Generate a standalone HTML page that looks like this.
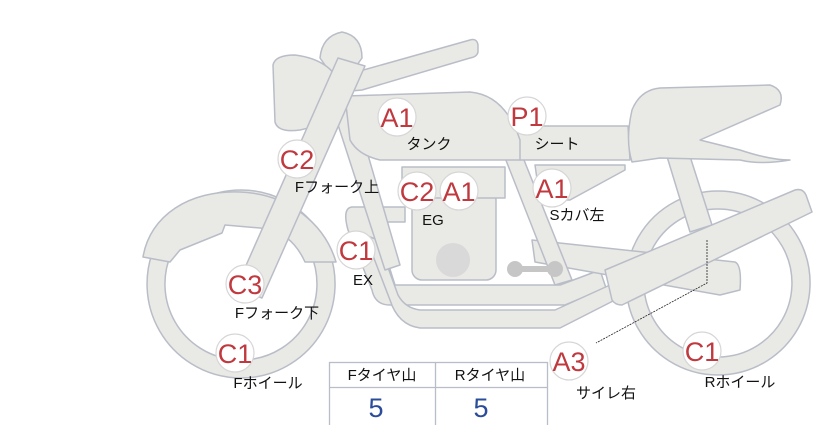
<!DOCTYPE html>
<html><head><meta charset="utf-8"><style>
html,body{margin:0;padding:0;background:#fff;}
svg{display:block}
text{font-family:"Liberation Sans","Noto Sans CJK JP",sans-serif;}
.b{fill:#e9e9e5;stroke:#b9bdc7;stroke-width:1.5;stroke-linejoin:round}
.c{fill:#fff;stroke:#d6d6d6;stroke-width:1.2}
.r{fill:#c0393f;font-size:27px;text-anchor:middle}
.l{fill:#111;font-size:15px;text-anchor:middle}
</style></head><body>
<svg width="822" height="425" viewBox="0 0 822 425">
<path class="b" fill-rule="evenodd" d="M718,191a92,92 0 1,0 0.1,0z M718,209a74,74 0 1,1 -0.1,0z"/>
<path class="b" fill-rule="evenodd" d="M241,190a94,94 0 1,0 0.1,0z M241,208a76,76 0 1,1 -0.1,0z"/>
<path class="b" d="M143,257 C150,215 190,190 240,192 C290,194 325,225 336,262 L305,262 C295,240 280,230 260,228 L225,225 L222,233 L180,250 L170,262 Z"/>
<path class="b" d="M352,207 L405,207 L405,222 L375,222 L395,285 L560,285 L600,270 L606,288 L565,305 L390,305 Q375,305 372,290 L348,230 Q342,208 352,207Z"/>
<path class="b" d="M365,235 L390,300 Q398,325 420,328 L560,328 L615,300 L610,285 L555,310 L420,310 Q405,308 398,295 L378,240Z"/>
<path class="b" d="M532,240 L735,262 Q742,265 740,290 L720,295 L535,262Z"/>
<path class="b" d="M665,150 L688,150 L712,225 L690,232Z"/>
<path class="b" d="M605,270 L795,190 Q803,188 806,195 L812,212 L622,305 Q615,305 612,300Z"/>
<path class="b" d="M330,100 L352,100 L400,265 L385,270Z"/>
<path class="b" d="M500,145 L518,145 L572,280 L555,285Z"/>
<rect class="b" x="412" y="190" width="84" height="90" rx="10"/>
<rect class="b" x="402" y="167" width="103" height="31"/>
<circle cx="453" cy="260" r="17" fill="#d9d9d9"/>
<path d="M515,269 L555,269" stroke="#c6c6c6" stroke-width="6"/>
<circle cx="515" cy="269" r="8" fill="#c6c6c6"/><circle cx="555" cy="269" r="8" fill="#c6c6c6"/>
<path class="b" d="M535,165 L625,165 L625,170 L570,200 L540,200Z"/>
<path class="b" d="M508,126 L628,126 L630,160 L520,160 Z"/>
<path class="b" d="M632,110 Q640,90 660,88 L770,85 Q785,90 780,105 L700,140 L740,150 Q770,160 790,160 Q760,165 740,160 L660,158 L632,162 Q625,140 632,110Z"/>
<path class="b" d="M345,96 L470,92 Q505,95 520,140 L520,160 L380,160 Q358,155 350,140Z"/>
<path class="b" d="M320,58 Q322,36 342,32 Q362,36 362,58 L352,72 L330,72Z"/>
<path class="b" d="M335,78 L470,40 Q477,38 478,45 L478,52 Q477,57 470,58 L362,90 L340,92Z"/>
<path class="b" d="M273,65 Q275,55 295,55 Q335,60 343,92 Q340,122 300,130 Q278,133 275,122Z"/>
<!-- fork -->
<path class="b" d="M338,58 L365,66 L262,298 L236,288Z"/>
<path d="M707,240 L707,283 L596,343" fill="none" stroke="#222" stroke-width="0.8" stroke-dasharray="2,1"/>
<g>
<circle class="c" cx="397" cy="117" r="19"/><text class="r" x="397" y="127">A1</text>
<circle class="c" cx="527" cy="116" r="19"/><text class="r" x="527" y="126">P1</text>
<circle class="c" cx="297" cy="159" r="19"/><text class="r" x="297" y="169">C2</text>
<circle class="c" cx="417" cy="191" r="19"/><text class="r" x="417" y="201">C2</text>
<circle class="c" cx="459" cy="191" r="19"/><text class="r" x="459" y="201">A1</text>
<circle class="c" cx="552" cy="188" r="19"/><text class="r" x="552" y="198">A1</text>
<circle class="c" cx="356" cy="250" r="19"/><text class="r" x="356" y="260">C1</text>
<circle class="c" cx="245" cy="284" r="19"/><text class="r" x="245" y="294">C3</text>
<circle class="c" cx="235" cy="353" r="19"/><text class="r" x="235" y="363">C1</text>
<circle class="c" cx="569" cy="361" r="19"/><text class="r" x="569" y="371">A3</text>
<circle class="c" cx="702" cy="351" r="19"/><text class="r" x="702" y="361">C1</text>
</g>
<g>
<text class="l" x="429" y="149">タンク</text>
<text class="l" x="557" y="149">シート</text>
<text class="l" x="337" y="192">Fフォーク上</text>
<text class="l" x="433" y="225">EG</text>
<text class="l" x="577" y="220">Sカバ左</text>
<text class="l" x="363" y="285">EX</text>
<text class="l" x="277" y="318">Fフォーク下</text>
<text class="l" x="268" y="388">Fホイール</text>
<text class="l" x="606" y="398">サイレ右</text>
<text class="l" x="740" y="387">Rホイール</text>
</g>
<g fill="none" stroke="#b9bdc7" stroke-width="1.3">
<rect x="329.5" y="362.5" width="218" height="70"/>
<line x1="329" y1="387.5" x2="548" y2="387.5"/>
<line x1="435.5" y1="362" x2="435.5" y2="425"/>
</g>
<text class="l" x="382" y="380">Fタイヤ山</text>
<text class="l" x="490" y="380">Rタイヤ山</text>
<text x="376" y="417" fill="#2b4c9b" font-size="27" text-anchor="middle">5</text>
<text x="481" y="417" fill="#2b4c9b" font-size="27" text-anchor="middle">5</text>
</svg>
</body></html>
